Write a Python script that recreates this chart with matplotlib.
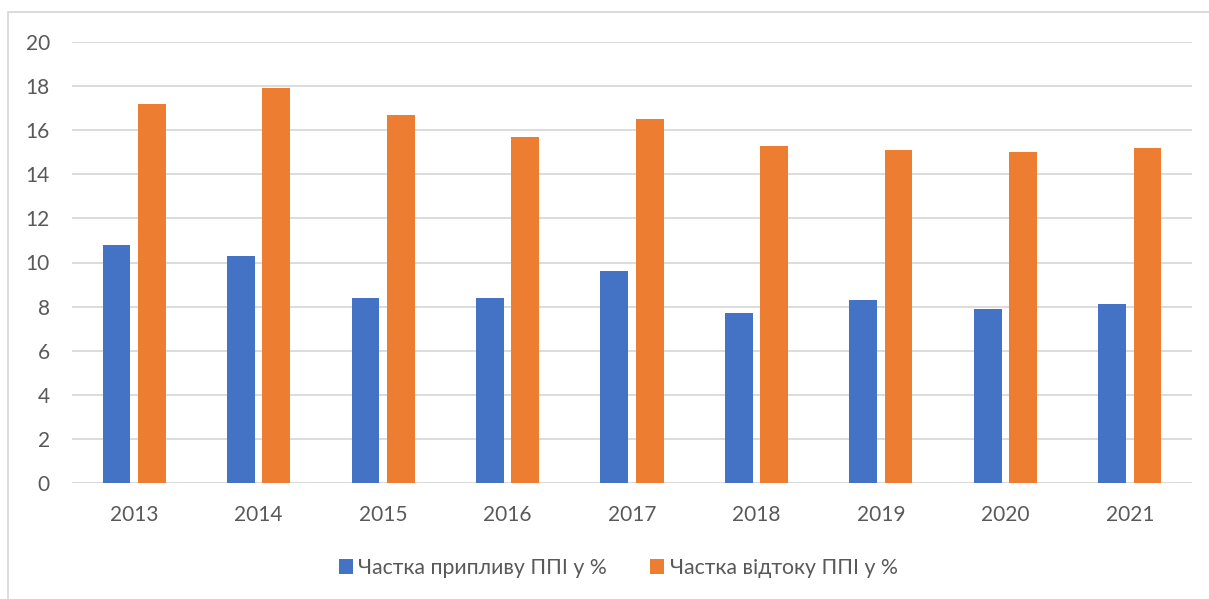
import numpy as np
import matplotlib
matplotlib.use('Agg')
import matplotlib.pyplot as plt
from matplotlib.patches import Rectangle

years = ['2013', '2014', '2015', '2016', '2017', '2018', '2019', '2020', '2021']
inflow = [10.8, 10.3, 8.4, 8.4, 9.6, 7.7, 8.3, 7.9, 8.1]
outflow = [17.2, 17.9, 16.7, 15.7, 16.5, 15.3, 15.1, 15.0, 15.2]
labels = ['Частка припливу ППІ у %', 'Частка відтоку ППІ у %']

plt.rcParams['font.family'] = ['Lato', 'DejaVu Sans']
text_col = '#595959'
grid_col = '#d9d9d9'

fig = plt.figure(figsize=(12.09, 5.99), dpi=100)
# chart frame, cut off at right and bottom like the source
fig.patches.append(Rectangle((8 / 1209, -0.2), 1.2, 1.2 - 12 / 599,
                             transform=fig.transFigure, fill=False,
                             edgecolor=grid_col, lw=1.3))

ax = fig.add_axes([72 / 1209, 1 - 483 / 599, 1120 / 1209, 441 / 599])
x = np.arange(len(years))
w = 0.223
off = 0.142
ax.bar(x - off, inflow, w, color='#4472C4', label=labels[0], zorder=3)
ax.bar(x + off, outflow, w, color='#ED7D31', label=labels[1], zorder=3)

ax.set_xlim(-0.5, len(years) - 0.5)
ax.set_ylim(0, 20)
ax.set_yticks(range(0, 21, 2))
ax.set_xticks(x)
ax.set_xticklabels(years)
ax.grid(axis='y', color=grid_col, lw=1.3, zorder=0)
for s in ax.spines.values():
    s.set_visible(False)
ax.axhline(0, color=grid_col, lw=1.3, zorder=2)
ax.tick_params(axis='both', length=0, labelsize=15, colors=text_col)
ax.tick_params(axis='y', pad=16)
ax.tick_params(axis='x', pad=16)

fig.legend(loc='center', bbox_to_anchor=(618 / 1209, 1 - 568 / 599), ncol=2,
           frameon=False, fontsize=15.3, labelcolor=text_col, handlelength=0.66,
           handleheight=0.66, handletextpad=0.25, columnspacing=2.05)

fig.savefig('out.png', dpi=100)
